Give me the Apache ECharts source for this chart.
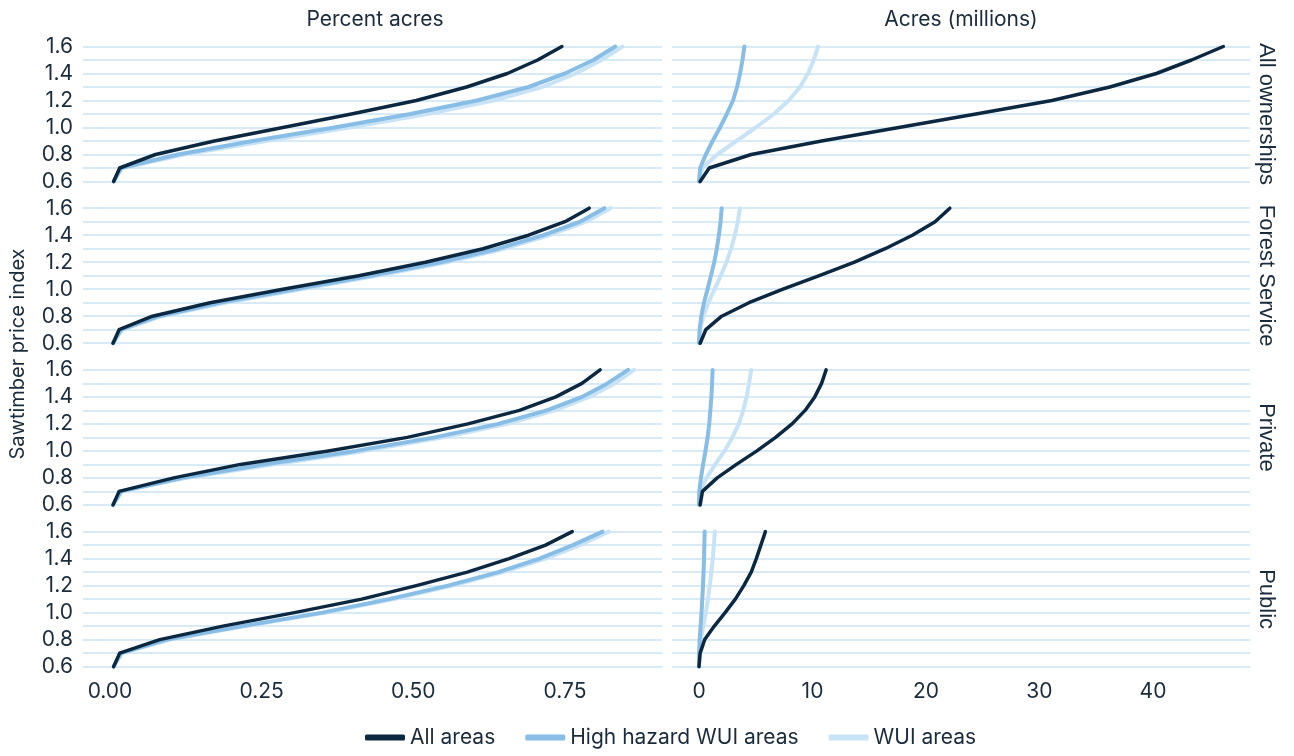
<!DOCTYPE html>
<html><head><meta charset="utf-8">
<script src="https://cdn.jsdelivr.net/npm/echarts@6/dist/echarts.min.js"></script>
<style>html,body{margin:0;padding:0;background:#fff}#c{width:1294px;height:756px}</style>
</head><body><div id="c"></div><script>
// ---- data ----
const priceIndex = [0.6, 0.7, 0.8, 0.9, 1.0, 1.1, 1.2, 1.3, 1.4, 1.5, 1.6];
const facetNames = ['All ownerships', 'Forest Service', 'Private', 'Public'];
const groupNames = ['All areas', 'High hazard WUI areas', 'WUI areas'];
const pctTicks = [0, 0.25, 0.5, 0.75];
const acresTicks = [0, 10, 20, 30, 40];

// Percent acres
const pctAllOwnAll = [0.006, 0.016, 0.075, 0.172, 0.285, 0.398, 0.505, 0.588, 0.655, 0.705, 0.745];
const pctAllOwnHH  = [0.006, 0.018, 0.112, 0.235, 0.370, 0.495, 0.605, 0.690, 0.750, 0.797, 0.833];
const pctAllOwnWUI = [0.006, 0.020, 0.122, 0.257, 0.395, 0.523, 0.632, 0.713, 0.768, 0.810, 0.845];
const pctFSAll = [0.005, 0.015, 0.070, 0.165, 0.285, 0.410, 0.520, 0.615, 0.690, 0.750, 0.790];
const pctFSHH  = [0.005, 0.018, 0.080, 0.180, 0.305, 0.430, 0.545, 0.640, 0.715, 0.775, 0.815];
const pctFSWUI = [0.005, 0.020, 0.085, 0.190, 0.315, 0.440, 0.555, 0.650, 0.725, 0.785, 0.825];
const pctPrivAll = [0.005, 0.015, 0.105, 0.215, 0.360, 0.490, 0.590, 0.675, 0.735, 0.778, 0.808];
const pctPrivHH  = [0.005, 0.018, 0.120, 0.255, 0.405, 0.535, 0.640, 0.720, 0.778, 0.820, 0.854];
const pctPrivWUI = [0.005, 0.020, 0.125, 0.268, 0.420, 0.550, 0.655, 0.733, 0.790, 0.832, 0.864];
const pctPubAll = [0.006, 0.016, 0.082, 0.186, 0.304, 0.415, 0.505, 0.589, 0.658, 0.718, 0.762];
const pctPubHH  = [0.006, 0.018, 0.094, 0.218, 0.350, 0.460, 0.557, 0.640, 0.708, 0.763, 0.812];
const pctPubWUI = [0.006, 0.020, 0.098, 0.224, 0.356, 0.468, 0.565, 0.648, 0.718, 0.775, 0.822];

// Acres (millions)
const acresAllOwnAll = [0.1, 0.9, 4.6, 10.8, 17.6, 24.4, 31.1, 36.2, 40.3, 43.4, 46.2];
const acresAllOwnHH  = [0.0, 0.1, 0.6, 1.2, 1.85, 2.45, 3.0, 3.35, 3.62, 3.83, 4.0];
const acresAllOwnWUI = [0.0, 0.3, 1.6, 3.3, 5.0, 6.6, 7.9, 8.9, 9.6, 10.1, 10.5];
const acresFSAll = [0.1, 0.6, 2.0, 4.4, 7.4, 10.6, 13.7, 16.4, 18.8, 20.8, 22.1];
const acresFSHH  = [0.0, 0.05, 0.2, 0.44, 0.75, 1.05, 1.34, 1.57, 1.75, 1.9, 2.0];
const acresFSWUI = [0.0, 0.09, 0.37, 0.83, 1.37, 1.92, 2.42, 2.83, 3.16, 3.42, 3.6];
const acresPrivAll = [0.1, 0.3, 1.6, 3.3, 5.1, 6.75, 8.2, 9.35, 10.2, 10.8, 11.2];
const acresPrivHH  = [0.0, 0.02, 0.17, 0.36, 0.57, 0.76, 0.9, 1.0, 1.09, 1.15, 1.2];
const acresPrivWUI = [0.0, 0.1, 0.66, 1.43, 2.25, 2.94, 3.5, 3.9, 4.19, 4.41, 4.6];
const acresPubAll = [0.0, 0.1, 0.5, 1.35, 2.3, 3.2, 3.95, 4.6, 5.05, 5.45, 5.85];
const acresPubHH  = [0.0, 0.01, 0.06, 0.14, 0.22, 0.29, 0.35, 0.4, 0.44, 0.47, 0.5];
const acresPubWUI = [0.0, 0.03, 0.16, 0.37, 0.6, 0.79, 0.95, 1.09, 1.21, 1.31, 1.4];

const pctData = [
  [pctAllOwnAll, pctAllOwnHH, pctAllOwnWUI],
  [pctFSAll, pctFSHH, pctFSWUI],
  [pctPrivAll, pctPrivHH, pctPrivWUI],
  [pctPubAll, pctPubHH, pctPubWUI]
];
const acresData = [
  [acresAllOwnAll, acresAllOwnHH, acresAllOwnWUI],
  [acresFSAll, acresFSHH, acresFSWUI],
  [acresPrivAll, acresPrivHH, acresPrivWUI],
  [acresPubAll, acresPubHH, acresPubWUI]
];

// ---- style / layout ----
const colors = ['#0c2841', '#88bde6', '#c8e3f6'];
const widths = [3.5, 4, 4];
const textColor = '#1a2b3c';
const gridColor = '#d9eaf7';
const font = 'Inter, "Noto Sans", sans-serif';
const period = 161.7, step = 13.5;
const top0 = 46.5 - step; // position of 1.7
const colLeft = [83, 672], colWidth = [579, 578];
const xRange = [[-0.0445, 0.91], [-2.38, 48.55]];

const grids = [], xAxes = [], yAxes = [], series = [], graphics = [];
for (let k = 0; k < 4; k++) {
  for (let c = 0; c < 2; c++) {
    const gi = grids.length;
    grids.push({left: colLeft[c], width: colWidth[c], top: top0 + period * k, height: step * 12});
    xAxes.push({
      type: 'value', gridIndex: gi, min: xRange[c][0], max: xRange[c][1],
      axisLine: {show: false}, axisTick: {show: false}, splitLine: {show: false},
      axisLabel: {
        show: k === 3, customValues: c === 0 ? pctTicks : acresTicks,
        formatter: v => c === 0 ? v.toFixed(2) : String(Math.round(v)),
        fontSize: 21, color: textColor, fontFamily: font, margin: 1
      }
    });
    yAxes.push({
      type: 'value', gridIndex: gi, min: 0.5, max: 1.7, interval: 0.1,
      axisLine: {show: false}, axisTick: {show: false},
      splitLine: {show: true, showMinLine: false, showMaxLine: false, lineStyle: {color: gridColor, width: 2}},
      axisLabel: {
        show: c === 0, margin: 10, fontSize: 21, color: textColor, fontFamily: font,
        formatter: v => { const t = Math.round(v * 10); return (t >= 6 && t <= 16 && t % 2 === 0) ? (t / 10).toFixed(1) : ''; }
      }
    });
    const src = c === 0 ? pctData[k] : acresData[k];
    for (let g = 2; g >= 0; g--) {
      series.push({
        type: 'line', name: groupNames[g], xAxisIndex: gi, yAxisIndex: gi,
        data: src[g].map((x, i) => [x, priceIndex[i]]),
        showSymbol: false, symbol: 'none', smooth: false,
        lineStyle: {color: colors[g], width: widths[g], cap: 'round', join: 'round'},
        itemStyle: {color: colors[g]}, z: 3 - g, silent: true
      });
    }
  }
  graphics.push({
    type: 'text', x: 1266, y: 46.5 + 5 * step + period * k, rotation: -Math.PI / 2,
    style: {text: facetNames[k], fill: textColor, font: '22px "Liberation Sans", Arial, sans-serif', textAlign: 'center', textVerticalAlign: 'middle'}
  });
}
graphics.push({type: 'text', x: 375, y: 20, style: {text: 'Percent acres', fill: textColor, font: '21px ' + font, textAlign: 'center', textVerticalAlign: 'middle'}});
graphics.push({type: 'text', x: 961, y: 20, style: {text: 'Acres (millions)', fill: textColor, font: '21px ' + font, textAlign: 'center', textVerticalAlign: 'middle'}});
graphics.push({type: 'text', x: 18, y: 354, rotation: Math.PI / 2, style: {text: 'Sawtimber price index', fill: textColor, font: '20px ' + font, textAlign: 'center', textVerticalAlign: 'middle'}});

const chart = echarts.init(document.getElementById('c'), null, {renderer: 'canvas'});
chart.setOption({
  animation: false,
  backgroundColor: '#ffffff',
  grid: grids, xAxis: xAxes, yAxis: yAxes, series: series,
  graphic: graphics,
  legend: {
    data: groupNames.map(n => ({name: n, icon: 'roundRect'})),
    bottom: 3, left: 360, itemWidth: 40, itemHeight: 6, itemGap: 30,
    textStyle: {fontSize: 21, color: textColor, fontFamily: font},
    selectedMode: false
  }
});
</script></body></html>
